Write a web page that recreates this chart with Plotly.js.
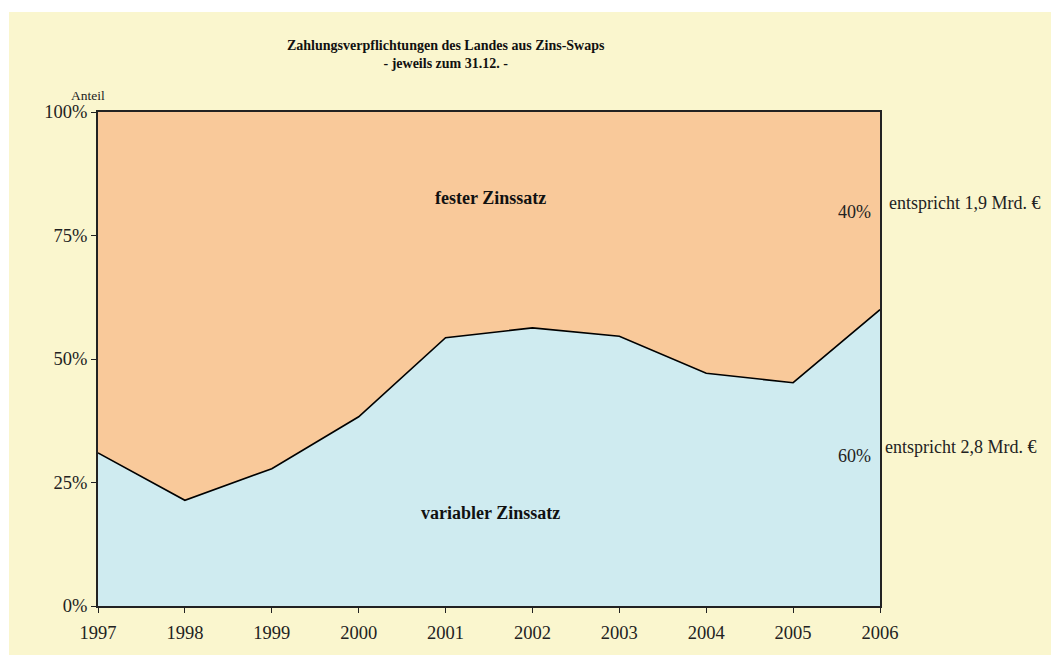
<!DOCTYPE html>
<html>
<head>
<meta charset="utf-8">
<script src="https://cdn.plot.ly/plotly-3.0.1.min.js"></script>
<style>html,body{margin:0;padding:0;background:#fff;}#chart{width:1051px;height:656px;}</style>
</head>
<body>
<div id="chart"></div>
<script>
const years = [1997, 1998, 1999, 2000, 2001, 2002, 2003, 2004, 2005, 2006];
const variabel = [31.0, 21.4, 27.8, 38.3, 54.3, 56.3, 54.6, 47.1, 45.2, 60.0];
const fest = [69.0, 78.6, 72.2, 61.7, 45.7, 43.7, 45.4, 52.9, 54.8, 40.0];
const yTicks = [0, 25, 50, 75, 100];
const yTickText = ['0%', '25%', '50%', '75%', '100%'];

const serif = '"Liberation Serif", "Times New Roman", serif';
const traces = [
  {x: years, y: variabel, type: 'scatter', mode: 'lines', stackgroup: 'a',
   name: 'variabler Zinssatz', fillcolor: '#CFEBF0', line: {color: '#000', width: 1.6}},
  {x: years, y: fest, type: 'scatter', mode: 'lines', stackgroup: 'a',
   name: 'fester Zinssatz', fillcolor: '#F9C99A', line: {color: 'rgba(0,0,0,0)', width: 0}}
];
const tickFont = {family: serif, size: 18.5, color: '#222'};
const pw = 1051 - 98 - 171, ph = 656 - 112 - 50;
const px = v => (v - 98) / pw;
const py = v => (606 - v) / ph;
const layout = {
  width: 1051, height: 656,
  margin: {l: 98, r: 171, t: 112, b: 50},
  paper_bgcolor: '#fff', plot_bgcolor: '#F9C99A',
  showlegend: false,
  font: {family: serif, size: 18, color: '#222'},
  xaxis: {range: [1997, 2006], tickvals: years, ticktext: years.map(String),
    ticks: 'outside', ticklen: 5, tickcolor: '#222', tickwidth: 1, ticklabelstandoff: 4,
    showline: true, linecolor: '#222', linewidth: 2, mirror: true,
    showgrid: false, zeroline: false, tickfont: tickFont},
  yaxis: {range: [0, 100], tickvals: yTicks, ticktext: yTickText,
    ticks: 'outside', ticklen: 5, tickcolor: '#222', tickwidth: 1,
    showline: true, linecolor: '#222', linewidth: 2, mirror: true,
    showgrid: false, zeroline: false, tickfont: tickFont},
  shapes: [{type: 'rect', xref: 'paper', yref: 'paper', layer: 'below',
    x0: px(9), x1: px(1051), y0: py(655), y1: py(12),
    fillcolor: '#FAF6CE', line: {width: 0}}],
  annotations: [
    {xref: 'paper', yref: 'paper', x: px(446), y: py(55), xanchor: 'center', yanchor: 'middle', showarrow: false,
     text: '<b>Zahlungsverpflichtungen des Landes aus Zins-Swaps<br>- jeweils zum 31.12. -</b>', font: {family: serif, size: 14, color: '#111'}},
    {xref: 'paper', yref: 'paper', x: px(69), y: py(86), showarrow: false, text: 'Anteil', font: {family: serif, size: 13.5, color: '#222'}},
    {xref: 'x', yref: 'y', x: 2001.52, y: 82.6, showarrow: false, text: '<b>fester Zinssatz</b>', font: {family: serif, size: 18, color: '#111'}},
    {xref: 'x', yref: 'y', x: 2001.52, y: 18.8, showarrow: false, text: '<b>variabler Zinssatz</b>', font: {family: serif, size: 18, color: '#111'}},
    {xref: 'x', yref: 'y', x: 2006, y: 79.8, xanchor: 'right', xshift: -7, showarrow: false, text: '40%', font: {family: serif, size: 18, color: '#222'}},
    {xref: 'x', yref: 'y', x: 2006, y: 30.4, xanchor: 'right', xshift: -7, showarrow: false, text: '60%', font: {family: serif, size: 18, color: '#222'}},
    {xref: 'x', yref: 'y', x: 2006, y: 81.6, xanchor: 'left', xshift: 7, showarrow: false, text: 'entspricht 1,9 Mrd. €', font: {family: serif, size: 18, color: '#222'}},
    {xref: 'x', yref: 'y', x: 2006, y: 32.2, xanchor: 'left', xshift: 3, showarrow: false, text: 'entspricht 2,8 Mrd. €', font: {family: serif, size: 18, color: '#222'}}
  ]
};
Plotly.newPlot('chart', traces, layout, {displayModeBar: false, staticPlot: true});
</script>
</body>
</html>
